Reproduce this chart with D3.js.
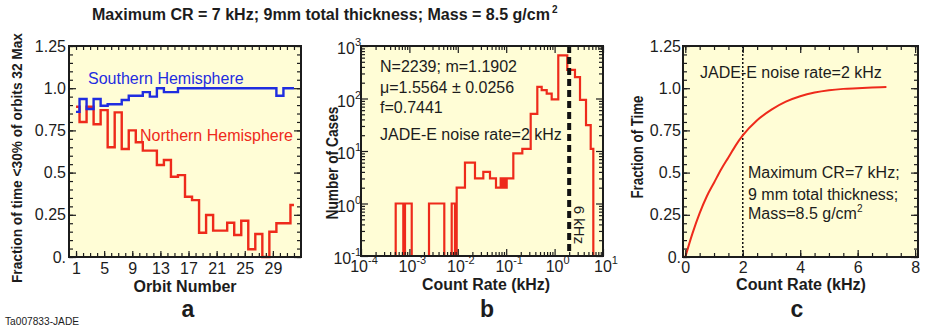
<!DOCTYPE html>
<html>
<head>
<meta charset="utf-8">
<script src="https://cdn.jsdelivr.net/npm/d3@7"></script>
<style>
body { margin: 0; background: #fff; }
svg text { font-family: "Liberation Sans", Arial, Helvetica, sans-serif; }
</style>
</head>
<body>
<svg id="fig" width="926" height="327"></svg>
<script>
// ---- panel a : fraction of time per orbit
var orbits = [1,2,3,4,5,6,7,8,9,10,11,12,13,14,15,16,17,18,19,20,21,22,23,24,25,26,27,28,29,30,31,32];
var southern = [0.86,0.936,0.877,0.936,0.896,0.905,0.905,0.93,0.955,0.955,0.977,0.95,1.0,0.977,0.977,
  1.0,1.0,1.0,1.0,1.0,1.0,1.0,1.0,1.0,1.0,1.0,1.0,1.0,1.0,0.955,1.0,1.0];
var northern = [0.89,0.80,0.89,0.786,0.87,0.65,0.857,0.64,0.75,0.68,0.63,0.63,0.545,0.575,0.475,0.485,
  0.357,0.337,0.144,0.249,0.156,0.156,0.203,0.13,0.215,0.046,0.136,0,0.15,0.2,0.2,0.308];
var orbitTicks = [1,5,9,13,17,21,25,29];
var fracTicks = [0,0.25,0.5,0.75,1.0,1.25];
var fracLabels = ["0.","0.25","0.5","0.75","1.0","1.25"];

// ---- panel b : count rate histogram (bin edges as log10 kHz)
var binEdges = [-4.0,-3.283,-3.126,-3.091,-2.952,-2.595,-2.279,-2.126,-2.058,-2.023,-1.852,-1.645,-1.473,
  -1.335,-1.211,-1.114,-1.083,-1.052,-1.021,-0.990,-0.853,-0.667,-0.494,-0.357,-0.267,-0.163,-0.060,
  0.076,0.262,0.421,0.525,0.649,0.746,0.800,0.903];
var binCounts = [0,1,0,1,0,1,0,1,0,2,6,3,4,3,2,3,2,3,2,3,9,11,51,166,145,124,96,660,350,256,94,31,11,0];
var decadesX = [-4,-3,-2,-1,0,1];
var decadesY = [-1,0,1,2,3];
var statLines = ["N=2239; m=1.1902", "\u03bc=1.5564 \u00b1 0.0256", "f=0.7441"];
var noiseRate = 2;

// ---- panel c : cumulative fraction of time
var crRate = [0,0.25,0.5,0.75,1.0,1.25,1.5,1.75,2.0,2.5,3.0,3.5,4.0,4.5,5.0,5.5,6.0,6.5,7.0];
var crFrac = [0,0.14,0.26,0.36,0.44,0.52,0.59,0.66,0.72,0.81,0.873,0.92,0.952,0.974,0.988,0.996,1.0,1.004,1.007];
var rateTicks = [0,2,4,6,8];

var ink = "#1c1c1c", paper = "#fffdd6", red = "#ee2a1b", blue = "#1f2de0";
var svg = d3.select("#fig");

function addAxis(axis, tx, ty, fs) {
  var g = svg.append("g")
      .attr("transform", "translate(" + tx + "," + ty + ")")
      .call(axis);
  g.select(".domain").remove();
  g.attr("font-family", null).attr("font-size", fs || 16).attr("color", ink);
  g.selectAll("line").attr("stroke-width", 1.2);
  return g;
}

function box(x0, y0, x1, y1) {
  svg.append("rect").attr("x", x0).attr("y", y0)
    .attr("width", x1 - x0).attr("height", y1 - y0)
    .attr("fill", paper);
}
function boxEdge(x0, y0, x1, y1) {
  svg.append("rect").attr("x", x0).attr("y", y0)
    .attr("width", x1 - x0).attr("height", y1 - y0)
    .attr("fill", "none").attr("stroke", ink).attr("stroke-width", 2);
}

function label(x, y, txt, o) {
  o = o || {};
  var t = svg.append("text").attr("x", x).attr("y", y)
    .attr("font-size", o.size || 16)
    .attr("font-weight", o.bold ? "bold" : null)
    .attr("fill", o.color || ink)
    .attr("text-anchor", o.anchor || "start")
    .text(txt);
  if (o.rotate) t.attr("transform", "rotate(" + o.rotate + "," + x + "," + y + ")");
  if (o.len) t.attr("textLength", o.len).attr("lengthAdjust", "spacingAndGlyphs");
  return t;
}

var fracMinor = d3.range(0, 1.2501, 0.05);

// ================= panel a =================
var xA = d3.scaleLinear().domain([0, 33]).range([69, 301]);
var yA = d3.scaleLinear().domain([0, 1.25]).range([257, 46]);

box(69, 46, 301, 257);

var stepLine = d3.line()
  .x(function(d, i) { return xA(orbits[i]); })
  .y(function(d) { return yA(d); })
  .curve(d3.curveStep);

svg.append("path").datum(northern).attr("d", stepLine)
  .attr("fill", "none").attr("stroke", red).attr("stroke-width", 2.4);
svg.append("path").datum(southern).attr("d", stepLine)
  .attr("fill", "none").attr("stroke", blue).attr("stroke-width", 2.4);

addAxis(d3.axisBottom(xA).tickValues(orbitTicks).tickSize(-6).tickPadding(6).tickFormat(d3.format("d")), 0, 257);
addAxis(d3.axisBottom(xA).tickValues(orbits).tickSize(-4).tickFormat(""), 0, 257);
addAxis(d3.axisTop(xA).tickValues(orbits).tickSize(-4).tickFormat(""), 0, 46);
addAxis(d3.axisLeft(yA).tickValues(fracTicks).tickSize(-7).tickPadding(3)
  .tickFormat(function(d, i) { return fracLabels[i]; }), 69, 0);
addAxis(d3.axisLeft(yA).tickValues(fracMinor).tickSize(-4).tickFormat(""), 69, 0);
addAxis(d3.axisRight(yA).tickValues(fracTicks).tickSize(-7).tickFormat(""), 301, 0);
addAxis(d3.axisRight(yA).tickValues(fracMinor).tickSize(-4).tickFormat(""), 301, 0);

boxEdge(69, 46, 301, 257);

label(88, 84, "Southern Hemisphere", {color: blue});
label(140, 141, "Northern Hemisphere", {color: red});
label(185, 292, "Orbit Number", {bold: true, anchor: "middle"});
label(22, 158, "Fraction of time <30% of orbits 32 Max", {bold: true, anchor: "middle", rotate: -90, len: 250, size: 14.5});

// ================= panel b =================
var xB = d3.scaleLog().domain([1e-4, 10]).range([361, 603]);
var yB = d3.scaleLog().domain([0.1, 1000]).range([256, 46]);

box(361, 46, 603, 256);

var histPts = binCounts.map(function(c, i) { return [binEdges[i], c]; });
histPts.push([binEdges[binEdges.length - 1], binCounts[binCounts.length - 1]]);
var histLine = d3.line()
  .x(function(d) { return xB(Math.pow(10, d[0])); })
  .y(function(d) { return yB(Math.max(d[1], 0.1)); })
  .curve(d3.curveStepAfter);
svg.append("path").datum(histPts).attr("d", histLine)
  .attr("fill", "none").attr("stroke", red).attr("stroke-width", 2.2);

svg.append("line")
  .attr("x1", xB(noiseRate)).attr("x2", xB(noiseRate))
  .attr("y1", yB(1000)).attr("y2", yB(0.1))
  .attr("stroke", "#111").attr("stroke-width", 4).attr("stroke-dasharray", "7,4");

var majX = decadesX.map(function(e) { return Math.pow(10, e); });
var majY = decadesY.map(function(e) { return Math.pow(10, e); });
var minX = [], minY = [];
decadesX.slice(0, -1).forEach(function(e) { for (var k = 2; k < 10; k++) minX.push(k * Math.pow(10, e)); });
decadesY.slice(0, -1).forEach(function(e) { for (var k = 2; k < 10; k++) minY.push(k * Math.pow(10, e)); });

addAxis(d3.axisBottom(xB).tickValues(majX).tickSize(-7).tickFormat(""), 0, 256);
addAxis(d3.axisBottom(xB).tickValues(minX).tickSize(-4).tickFormat(""), 0, 256);
addAxis(d3.axisTop(xB).tickValues(majX).tickSize(-7).tickFormat(""), 0, 46);
addAxis(d3.axisTop(xB).tickValues(minX).tickSize(-4).tickFormat(""), 0, 46);
addAxis(d3.axisLeft(yB).tickValues(majY).tickSize(-7).tickFormat(""), 361, 0);
addAxis(d3.axisLeft(yB).tickValues(minY).tickSize(-4).tickFormat(""), 361, 0);
addAxis(d3.axisRight(yB).tickValues(majY).tickSize(-7).tickFormat(""), 603, 0);
addAxis(d3.axisRight(yB).tickValues(minY).tickSize(-4).tickFormat(""), 603, 0);

boxEdge(361, 46, 603, 256);

// power-of-ten tick labels
decadesX.forEach(function(e) {
  var t = svg.append("text").attr("x", xB(Math.pow(10, e)) + 3).attr("y", 272)
    .attr("font-size", 16).attr("text-anchor", "middle").attr("fill", ink);
  t.append("tspan").text("10");
  t.append("tspan").attr("dy", -8).attr("font-size", 11).text(e);
});
decadesY.forEach(function(e) {
  var t = svg.append("text").attr("x", 361).attr("y", yB(Math.pow(10, e)) + 8)
    .attr("font-size", 16).attr("text-anchor", "end").attr("fill", ink);
  t.append("tspan").text("10");
  t.append("tspan").attr("dy", -8).attr("font-size", 11).text(e);
});

statLines.forEach(function(s, i) {
  label(380, [72, 93, 113][i], s);
});
label(380, 140, "JADE-E noise rate=" + noiseRate + " kHz");
label(574, 225, "6 kHz", {anchor: "middle", rotate: 90, size: 15});
label(486, 290, "Count Rate (kHz)", {bold: true, anchor: "middle", len: 128});
label(338, 163, "Number of Cases", {bold: true, anchor: "middle", rotate: -90, len: 113});

// ================= panel c =================
var xC = d3.scaleLinear().domain([-0.08, 8.1]).range([683, 918]);
var yC = d3.scaleLinear().domain([0, 1.25]).range([257, 46]);

box(683, 46, 918, 257);

svg.append("line")
  .attr("x1", xC(noiseRate)).attr("x2", xC(noiseRate))
  .attr("y1", yC(1.25)).attr("y2", yC(0))
  .attr("stroke", "#111").attr("stroke-width", 1.5).attr("stroke-dasharray", "2,2");

var cumLine = d3.line()
  .x(function(d, i) { return xC(crRate[i]); })
  .y(function(d) { return yC(d); })
  .curve(d3.curveMonotoneX);
svg.append("path").datum(crFrac).attr("d", cumLine)
  .attr("fill", "none").attr("stroke", red).attr("stroke-width", 2);

addAxis(d3.axisBottom(xC).tickValues(rateTicks).tickSize(-7).tickPadding(5), 0, 257);
addAxis(d3.axisBottom(xC).tickValues(d3.range(0, 8.01, 0.5)).tickSize(-4).tickFormat(""), 0, 257);
addAxis(d3.axisTop(xC).tickValues(rateTicks).tickSize(-7).tickFormat(""), 0, 46);
addAxis(d3.axisTop(xC).tickValues(d3.range(0, 8.01, 0.5)).tickSize(-4).tickFormat(""), 0, 46);
addAxis(d3.axisLeft(yC).tickValues(fracTicks).tickSize(-7).tickPadding(2)
  .tickFormat(function(d, i) { return fracLabels[i]; }), 683, 0);
addAxis(d3.axisLeft(yC).tickValues(fracMinor).tickSize(-4).tickFormat(""), 683, 0);
addAxis(d3.axisRight(yC).tickValues(fracTicks).tickSize(-7).tickFormat(""), 918, 0);
addAxis(d3.axisRight(yC).tickValues(fracMinor).tickSize(-4).tickFormat(""), 918, 0);

boxEdge(683, 46, 918, 257);

label(700, 78, "JADE-E noise rate=" + noiseRate + " kHz");
label(748, 178, "Maximum CR=7 kHz;");
label(748, 200, "9 mm total thickness;");
var mass = label(748, 219, "Mass=8.5 g/cm");
mass.append("tspan").attr("dy", -7).attr("font-size", 10).text("2");
label(801, 290, "Count Rate (kHz)", {bold: true, anchor: "middle", len: 130});
label(643, 147, "Fraction of Time", {bold: true, anchor: "middle", rotate: -90, len: 103});

// ================= title and captions =================
label(92, 20, "Maximum CR = 7 kHz; 9mm total thickness; Mass = 8.5 g/cm", {bold: true, len: 458});
svg.append("text").attr("x", 552).attr("y", 13).attr("font-size", 10).attr("font-weight", "bold")
  .attr("fill", ink).text("2");

label(188, 317, "a", {bold: true, anchor: "middle", size: 23});
label(487, 317, "b", {bold: true, anchor: "middle", size: 23});
label(797, 317, "c", {bold: true, anchor: "middle", size: 23});
label(5, 325, "Ta007833-JADE", {size: 11, len: 74});
</script>
</body>
</html>
